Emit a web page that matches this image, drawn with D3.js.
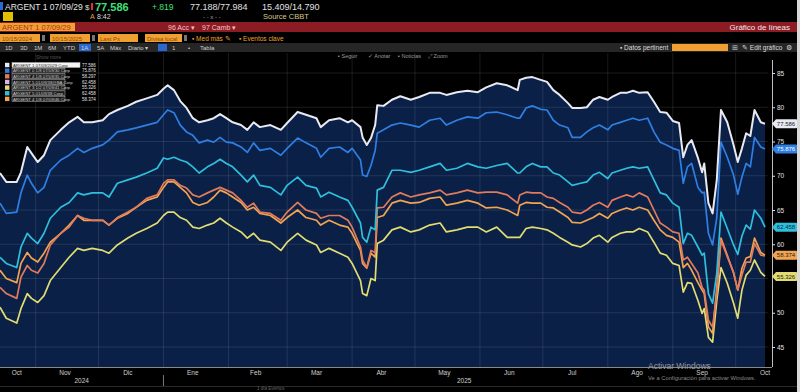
<!DOCTYPE html>
<html>
<head>
<meta charset="utf-8">
<script src="https://cdn.jsdelivr.net/npm/d3@7"></script>
<style>
  body { margin: 0; background: #000; overflow: hidden; }
  svg { display: block; font-family: "Liberation Sans", Arial, sans-serif; }
</style>
</head>
<body>
<svg id="chart" width="800" height="392"></svg>
<script>
// ---- data ----
var dates = ["2024-10-15","2024-10-18","2024-10-23","2024-10-25","2024-10-28","2024-10-30","2024-11-02","2024-11-05","2024-11-08","2024-11-13",
  "2024-11-17","2024-11-21","2024-11-24","2024-11-28","2024-12-03","2024-12-06","2024-12-10","2024-12-15","2024-12-19","2024-12-24",
  "2024-12-29","2025-01-01","2025-01-03","2025-01-06","2025-01-09","2025-01-12","2025-01-15","2025-01-18","2025-01-22","2025-01-25",
  "2025-01-28","2025-01-31","2025-02-03","2025-02-07","2025-02-10","2025-02-13","2025-02-16","2025-02-21","2025-02-26","2025-03-01",
  "2025-03-06","2025-03-10","2025-03-15","2025-03-17","2025-03-21","2025-03-26","2025-03-30","2025-04-01","2025-04-05","2025-04-06",
  "2025-04-08","2025-04-10","2025-04-12","2025-04-13","2025-04-16","2025-04-20","2025-04-24","2025-04-29","2025-05-03","2025-05-08",
  "2025-05-13","2025-05-16","2025-05-21","2025-05-26","2025-05-31","2025-06-04","2025-06-09","2025-06-14","2025-06-19","2025-06-20",
  "2025-06-23","2025-06-26","2025-06-30","2025-07-03","2025-07-06","2025-07-09","2025-07-13","2025-07-15","2025-07-19","2025-07-22",
  "2025-07-25","2025-07-28","2025-08-01","2025-08-03","2025-08-07","2025-08-10","2025-08-13","2025-08-16","2025-08-20","2025-08-23",
  "2025-08-26","2025-08-29","2025-09-01","2025-09-04","2025-09-06","2025-09-08","2025-09-10","2025-09-13","2025-09-15","2025-09-16",
  "2025-09-18","2025-09-20","2025-09-22","2025-09-24","2025-09-27","2025-09-30","2025-10-02","2025-10-04","2025-10-06","2025-10-08",
  "2025-10-10","2025-10-13","2025-10-15"];

var white29 = [70.4,69.1,69.1,70.5,74.2,73.3,72.0,73.0,75.2,76.7,77.8,78.6,77.8,77.8,78.1,79.0,79.6,80.2,80.8,81.3,
  81.8,82.7,83.2,82.5,80.9,79.9,78.4,77.8,78.1,78.4,79.0,78.4,77.8,77.4,76.7,77.8,77.1,
  77.4,76.7,77.7,79.3,78.9,78.4,77.1,78.1,78.4,77.8,78.1,77.1,75.6,74.5,75.5,77.4,80.3,80.2,81.1,81.6,
  81.1,81.5,82.1,82.1,81.8,82.2,82.4,82.2,82.9,83.5,83.2,82.5,
  84.0,84.3,84.4,84.0,83.7,82.5,81.8,80.6,79.9,79.9,80.0,81.1,81.5,81.1,81.5,82.1,82.1,82.4,82.1,82.2,
  80.8,79.3,79.2,78.0,77.7,
  72.7,74.5,75.2,72.6,70.5,71.8,66.0,64.5,69.4,79.6,77.8,74.5,72.0,74.0,76.2,75.8,
  79.6,77.8,77.6];

var blue30 = [66.0,64.5,64.7,67.5,70.1,68.9,67.5,68.3,70.8,72.3,73.0,74.0,73.4,74.0,74.5,75.2,76.4,76.7,77.0,77.4,
  77.8,78.9,79.6,79.2,77.4,76.4,75.9,74.8,75.2,74.9,75.6,74.9,74.8,74.2,73.4,74.8,73.7,
  74.0,73.0,74.0,75.5,74.8,74.0,72.7,74.0,74.2,73.4,74.0,72.3,70.1,69.9,71.5,73.7,76.2,76.7,77.4,77.7,
  77.4,77.1,78.1,78.4,77.4,78.1,78.6,78.4,79.2,79.3,78.9,78.4,
  78.4,79.9,80.2,79.7,79.6,78.1,77.4,77.0,75.6,75.6,76.4,77.0,77.4,76.7,77.4,77.8,78.1,78.4,78.1,78.4,
  76.4,74.9,74.5,74.0,73.7,
  68.9,71.3,71.8,68.3,67.5,67.6,61.6,59.9,63.9,74.9,72.7,70.1,67.3,69.8,71.8,71.3,
  75.6,74.2,73.9];

var cyan38 = [58.1,57.2,56.6,59.6,61.6,60.9,60.1,61.6,63.8,65.4,66.1,67.5,67.2,67.5,67.5,66.9,68.9,69.4,69.8,70.4,
  71.1,72.6,72.4,72.7,72.3,72.0,71.3,70.4,71.3,71.8,72.4,71.8,71.3,70.1,69.1,70.1,68.6,
  68.3,67.2,68.6,69.8,68.6,68.2,66.9,67.6,66.9,66.4,65.4,63.1,61.0,60.3,62.5,62.1,67.9,68.3,70.8,70.8,
  70.5,70.8,71.3,71.8,70.8,71.1,71.8,71.3,71.1,71.5,71.8,70.4,
  70.4,71.3,71.8,71.3,71.3,70.4,70.1,69.1,68.6,68.9,69.1,70.1,70.5,69.6,70.4,70.8,71.1,71.3,71.1,71.3,
  69.4,67.5,67.2,66.0,65.4,
  60.1,61.6,61.3,59.6,58.4,58.7,52.8,51.4,55.8,64.7,62.3,59.9,58.5,61.2,62.8,62.2,
  65.0,63.8,62.5];

var salmon35 = [53.7,52.8,52.1,55.2,56.9,56.2,55.8,57.2,59.9,61.6,62.5,64.2,63.8,63.5,63.5,62.8,63.9,64.7,65.4,66.7,
  67.2,68.9,69.4,69.4,68.6,68.2,67.2,66.9,67.5,67.9,68.3,67.9,67.5,66.4,65.4,66.0,64.7,
  64.5,63.5,64.7,66.1,65.0,64.5,63.8,64.2,64.2,63.5,62.5,59.6,57.7,56.6,59.1,58.8,65.3,65.4,66.9,67.5,
  66.9,67.2,67.5,67.9,67.2,67.5,67.9,67.5,67.6,67.6,67.2,66.0,
  67.2,67.6,67.5,67.5,66.9,66.7,66.1,65.4,64.7,64.5,65.0,65.7,66.1,65.4,66.4,66.9,67.2,66.9,67.5,66.9,
  65.0,63.1,62.5,61.8,61.6,
  57.7,58.1,57.2,55.8,53.7,53.3,48.9,47.9,52.8,60.6,58.2,55.9,53.3,55.5,57.4,57.4,
  60.1,58.4,58.3];

var orange46 = [56.2,55.0,54.4,57.2,58.8,58.0,57.4,58.7,60.3,61.6,62.8,64.2,63.5,63.5,63.5,62.8,63.8,64.5,65.4,66.4,
  66.9,68.3,69.1,69.1,68.3,67.5,66.1,65.7,66.1,66.9,67.9,67.5,66.9,66.1,65.0,65.4,64.5,
  64.2,63.1,63.9,65.0,63.9,63.5,62.8,63.5,62.8,62.5,61.6,59.1,57.2,56.5,58.7,58.1,63.9,64.2,66.0,66.4,
  66.0,66.1,66.7,66.9,65.7,66.0,66.4,66.0,65.3,65.4,65.0,64.2,
  65.7,66.1,66.0,66.0,65.4,65.3,64.7,63.9,63.2,63.1,63.5,63.9,64.5,63.8,64.5,65.0,65.3,65.0,65.4,65.0,
  63.5,62.1,61.3,61.0,60.3,
  56.6,57.2,56.2,54.4,53.3,52.8,47.9,47.0,53.7,60.9,58.4,55.8,53.3,56.5,58.0,58.2,
  60.9,58.8,58.4];

var yellow41 = [50.8,49.2,48.5,50.6,52.8,52.1,51.5,52.5,54.7,56.6,58.1,59.4,59.1,59.4,59.1,58.7,59.9,60.9,61.6,62.3,
  63.1,64.2,64.7,64.7,63.9,63.5,62.5,62.3,62.8,63.1,63.8,63.1,62.5,61.8,60.9,61.6,60.6,
  60.3,59.1,60.3,61.6,60.6,59.9,58.8,59.4,58.7,58.1,57.2,54.7,52.8,52.5,55.0,54.7,60.1,60.6,62.1,62.5,
  61.8,62.1,62.8,63.1,61.8,62.1,62.5,62.5,61.8,62.5,61.0,61.0,
  61.0,62.3,62.5,62.3,62.1,61.6,61.0,60.3,59.9,59.6,60.1,60.9,61.3,60.3,61.0,61.6,61.8,61.8,62.3,61.8,
  60.3,58.7,58.4,57.2,56.9,
  53.0,54.4,54.3,51.8,49.9,50.6,46.4,45.7,51.8,56.6,54.3,51.4,49.2,53.3,55.5,56.2,
  57.7,55.9,55.3];

var yTicks = [45, 50, 55, 60, 65, 70, 75, 80, 85];
var monthLabels = ["Oct","Nov","Dic","Ene","Feb","Mar","Abr","May","Jun","Jul","Ago","Sep","Oct"];
var monthLabelDates = ["2024-10-23","2024-11-15","2024-12-15","2025-01-15","2025-02-14","2025-03-15","2025-04-15",
  "2025-05-15","2025-06-15","2025-07-15","2025-08-15","2025-09-15","2025-10-15"];
var yearLabels = ["2024", "2025"];

var legendNames = ["ARGENT 1 07/09/2029 Corp","ARGENT 0 1/8 07/09/30 Corp","ARGENT 4 1/8 07/09/35 Corp",
  "ARGENT 5 01/09/38@BA Corp","ARGENT 3 1/2 07/09/41 Corp","ARGENT 5 01/09/38 Corp","ARGENT 4 1/8 07/09/46 Corp"];
var legendValues = ["77.586","75.876","58.297","62.458","55.326","62.458","58.374"];

// ---- styles ----
var colors = {
  white: "#e9e9f2", blue: "#2f7fe3", salmon: "#e27a5c", lavender: "#d6b4e4",
  yellow: "#e2dc72", cyan: "#2fbfdc", orange: "#f2a452"
};
var legendColors = [colors.white, colors.blue, colors.salmon, colors.lavender, colors.yellow, colors.cyan, colors.orange];

var parse = d3.timeParse("%Y-%m-%d");
var svg = d3.select("#chart");

function txt(x, y, s, color, size, opts) {
  opts = opts || {};
  return svg.append("text")
    .attr("x", x).attr("y", y)
    .attr("fill", color)
    .attr("font-size", size)
    .attr("font-weight", opts.bold ? "bold" : "normal")
    .attr("text-anchor", opts.anchor || "start")
    .text(s);
}

svg.append("rect").attr("width", 800).attr("height", 392).attr("fill", "#000");

// ---- terminal header ----
svg.append("rect").attr("x", 0).attr("y", 2).attr("width", 3).attr("height", 8).attr("fill", "#2a6ad0");
txt(5, 10, "ARGENT 1 07/09/29", "#e6e6e6", 8.5);
txt(85, 10, "$", "#ddd", 8);
svg.append("rect").attr("x", 91).attr("y", 3).attr("width", 2).attr("height", 7).attr("fill", "#e03030");
txt(95, 11, "77.586", "#3fe07c", 11, {bold: true});
txt(152, 10, "+.819", "#3fe07c", 8.5);
txt(190, 10, "77.188/77.984", "#e0e0e0", 9);
txt(262, 10, "15.409/14.790", "#e0e0e0", 9);

svg.append("rect").attr("x", 3).attr("y", 12).attr("width", 10).attr("height", 9).attr("fill", "#e0c000");
txt(90, 19, "A", "#f0a030", 7);
txt(97, 19, "8:42", "#dcdcdc", 7);
txt(203, 19, "- - x - -", "#aaa", 6);
txt(263, 19, "Source CBBT", "#d8c880", 7.5);

svg.append("rect").attr("x", 0).attr("y", 22).attr("width", 797).attr("height", 10).attr("fill", "#8c1c24");
svg.append("rect").attr("x", 0).attr("y", 23).attr("width", 75).attr("height", 8).attr("fill", "#f0a030");
txt(2, 30, "ARGENT 1 07/09/29", "#a8341a", 7.5);
txt(168, 30, "96 Acc \u25BE", "#f4c4c4", 7);
txt(202, 30, "97 Camb \u25BE", "#f4c4c4", 7);
txt(790, 30, "Gr\u00e1fico de l\u00edneas", "#f4e8e8", 8, {anchor: "end"});

[[0, 40, "10/15/2024"], [50, 40, "10/15/2025"], [98, 40, "Last Px"], [145, 37, "Divisa local"]].forEach(function(b) {
  svg.append("rect").attr("x", b[0]).attr("y", 34).attr("width", b[1]).attr("height", 8).attr("fill", "#f0a030");
  txt(b[0] + 2, 40.5, b[2], "#8a4a10", 6);
});
[42, 92, 184].forEach(function(px) {
  svg.append("rect").attr("x", px).attr("y", 35).attr("width", 3).attr("height", 6).attr("fill", "#777");
});
txt(192, 41, "\u25AA Med m\u00e1s \u270E", "#f0a030", 6.5);
txt(239, 41, "\u25AA Eventos clave", "#f0a030", 6.5);

svg.append("rect").attr("x", 0).attr("y", 43).attr("width", 797).attr("height", 9).attr("fill", "#262626");
svg.append("rect").attr("x", 79).attr("y", 44).attr("width", 12).attr("height", 7).attr("fill", "#2a6ad0");
svg.append("rect").attr("x", 158).attr("y", 44).attr("width", 9).attr("height", 7).attr("fill", "#2a6ad0");
[["1D", 5], ["3D", 20], ["1M", 34], ["6M", 48], ["YTD", 63], ["1A", 81], ["5A", 97], ["M\u00e1x", 110],
 ["Diario \u25BE", 128], ["1", 172], ["\u2022", 188], ["Tabla", 200]].forEach(function(t) {
  txt(t[1], 50, t[0], "#cfcfcf", 6);
});
txt(620, 50, "\u25AA Datos pertinent", "#ddd", 6.5);
svg.append("rect").attr("x", 672).attr("y", 44).attr("width", 56).attr("height", 7).attr("fill", "#f0a030");
txt(732, 50, "\u229E", "#ccc", 6.5);
txt(742, 50, "\u270E Edit gr\u00e1fico", "#ddd", 6.5);
txt(786, 50, "\u2699", "#ddd", 7);

txt(338, 57.5, "\u25AA Seguir", "#9a9a9a", 5.5);
txt(368, 57.5, "\u2713 Anotar", "#9a9a9a", 5.5);
txt(398, 57.5, "\u25AA Noticias", "#9a9a9a", 5.5);
txt(428, 57.5, "\u2922 Zoom", "#9a9a9a", 5.5);
txt(36, 58.5, "Show more", "#555", 5);

// ---- chart ----
var plotTop = 53, plotBottom = 367, plotRight = 768;

var x = d3.scaleTime()
  .domain([parse("2024-10-15"), parse("2025-10-15")])
  .range([0, 765]);
var y = d3.scaleLinear().domain([45, 85]).range([347, 73]);

var series = [
  {key: "yellow", values: yellow41},
  {key: "orange", values: orange46},
  {key: "salmon", values: salmon35},
  {key: "cyan", values: cyan38},
  {key: "blue", values: blue30},
  {key: "white", values: white29}
];
series.forEach(function(s) {
  s.points = s.values.map(function(v, i) { return {date: parse(dates[i]), value: v}; });
});
var whitePts = series[5].points;

svg.append("clipPath").attr("id", "clip")
  .append("rect").attr("x", 0).attr("y", 60).attr("width", plotRight).attr("height", plotBottom - 60);

var area = d3.area()
  .x(function(d) { return x(d.date); })
  .y0(plotBottom)
  .y1(function(d) { return y(d.value); });

svg.append("path")
  .datum(whitePts)
  .attr("d", area)
  .attr("fill", "#0a2047");

// grid
var months = d3.timeMonth.range(parse("2024-11-01"), parse("2025-10-02"));
svg.append("g").selectAll("line")
  .data(months).enter().append("line")
  .attr("x1", function(d) { return x(d); }).attr("x2", function(d) { return x(d); })
  .attr("y1", plotTop).attr("y2", plotBottom)
  .attr("stroke", "#ffffff").attr("stroke-opacity", 0.13).attr("stroke-width", 0.8);

svg.append("g").selectAll("line")
  .data(yTicks).enter().append("line")
  .attr("x1", 0).attr("x2", plotRight)
  .attr("y1", function(d) { return y(d); }).attr("y2", function(d) { return y(d); })
  .attr("stroke", "#ffffff").attr("stroke-opacity", 0.13).attr("stroke-width", 0.8);

var line = d3.line()
  .x(function(d) { return x(d.date); })
  .y(function(d) { return y(d.value); });

svg.append("g").attr("clip-path", "url(#clip)")
  .selectAll("path")
  .data(series).enter().append("path")
  .attr("d", function(d) { return line(d.points); })
  .attr("fill", "none")
  .attr("stroke", function(d) { return colors[d.key]; })
  .attr("stroke-width", function(d) { return d.key == "white" ? 2 : 1.7; })
  .attr("stroke-linejoin", "round");

// x axis
svg.append("line").attr("x1", 0).attr("x2", 772).attr("y1", plotBottom + 0.5).attr("y2", plotBottom + 0.5)
  .attr("stroke", "#8a8a8a").attr("stroke-width", 1);

svg.append("g").selectAll("text")
  .data(monthLabels).enter().append("text")
  .attr("x", function(d, i) { return x(parse(monthLabelDates[i])); })
  .attr("y", 375)
  .attr("text-anchor", "middle")
  .attr("font-size", 6.5)
  .attr("fill", "#cfcfcf")
  .text(function(d) { return d; });

var yearEdges = [parse("2024-10-15"), parse("2025-01-01"), parse("2025-10-15")];
svg.append("g").selectAll("text")
  .data(yearLabels).enter().append("text")
  .attr("x", function(d, i) { return (x(yearEdges[i]) + x(yearEdges[i + 1])) / 2; })
  .attr("y", 383)
  .attr("text-anchor", "middle")
  .attr("font-size", 6.5)
  .attr("fill", "#cfcfcf")
  .text(function(d) { return d; });
svg.append("line").attr("x1", x(yearEdges[1])).attr("x2", x(yearEdges[1]))
  .attr("y1", 375).attr("y2", 386).attr("stroke", "#777");
svg.append("line").attr("x1", 0).attr("x2", 797).attr("y1", 386.5).attr("y2", 386.5).attr("stroke", "#2a2a2a");
txt(257, 390, "1 d\u00eda   Eventos", "#666", 4.5);

// last value tags (positions from the last point of each series)
var tags = [
  {key: "yellow", idx: 4, text: "#222"},
  {key: "orange", idx: 6, text: "#222"},
  {key: "cyan", idx: 5, text: "#0a2a3a"},
  {key: "blue", idx: 1, text: "#fff"},
  {key: "white", idx: 0, text: "#222"}
];
tags.forEach(function(t) {
  var s = series.filter(function(d) { return d.key == t.key; })[0];
  t.y = y(s.values[s.values.length - 1]);
});

// y axis on the right; tick labels hidden behind a tag are left out
svg.append("line").attr("x1", 772.5).attr("x2", 772.5).attr("y1", 60).attr("y2", plotBottom)
  .attr("stroke", "#bdbdbd").attr("stroke-width", 1);
var shownTicks = yTicks.filter(function(v) {
  return !tags.some(function(t) { return Math.abs(t.y - y(v)) < 6; });
});
var yAxis = svg.append("g")
  .attr("transform", "translate(772,0)")
  .call(d3.axisRight(y).tickValues(shownTicks).tickSize(3).tickPadding(2));
yAxis.select(".domain").remove();
yAxis.selectAll("line").attr("stroke", "#ddd");
yAxis.selectAll("text").attr("fill", "#e0e0e0").attr("font-size", 6.5)
  .attr("font-family", "Liberation Sans, Arial, sans-serif");

tags.forEach(function(t) {
  var g = svg.append("g").attr("transform", "translate(0," + t.y + ")");
  g.append("path")
    .attr("d", "M772,0 L776,-4.5 L796,-4.5 Q798,-4.5 798,-2.5 L798,2.5 Q798,4.5 796,4.5 L776,4.5 Z")
    .attr("fill", colors[t.key]);
  g.append("text").attr("x", 786).attr("y", 2.2).attr("text-anchor", "middle")
    .attr("font-size", 6).attr("fill", t.text).text(legendValues[t.idx]);
});

// legend
var leg = svg.append("g");
legendNames.forEach(function(name, i) {
  var ly = 65 + i * 5.65;
  leg.append("rect").attr("x", 5).attr("y", ly - 2.2).attr("width", 4.4).attr("height", 4.4)
    .attr("fill", legendColors[i]);
  leg.append("rect").attr("x", 12).attr("y", ly - 2.4).attr("width", i == 0 ? 68 : 53).attr("height", 4.8)
    .attr("fill", i == 0 ? "#f4f4f4" : "#1a1a1a").attr("stroke", "#bfbfbf").attr("stroke-width", 0.5);
  leg.append("text").attr("x", 13).attr("y", ly + 1.6).attr("font-size", 4.3)
    .attr("fill", i == 0 ? "#222" : "#d0d0d0").text(name);
  leg.append("text").attr("x", 82).attr("y", ly + 1.6).attr("font-size", 4.5)
    .attr("fill", "#e0e0e0").text(legendValues[i]);
});

// windows watermark and screen edge
txt(648, 369, "Activar Windows", "#9a9a9a", 8.5);
txt(648, 380, "Ve a Configuraci\u00f3n para activar Windows.", "#8a8a8a", 5.8);
svg.append("rect").attr("x", 797).attr("y", 0).attr("width", 3).attr("height", 392).attr("fill", "#d8d8d8");
</script>
</body>
</html>
